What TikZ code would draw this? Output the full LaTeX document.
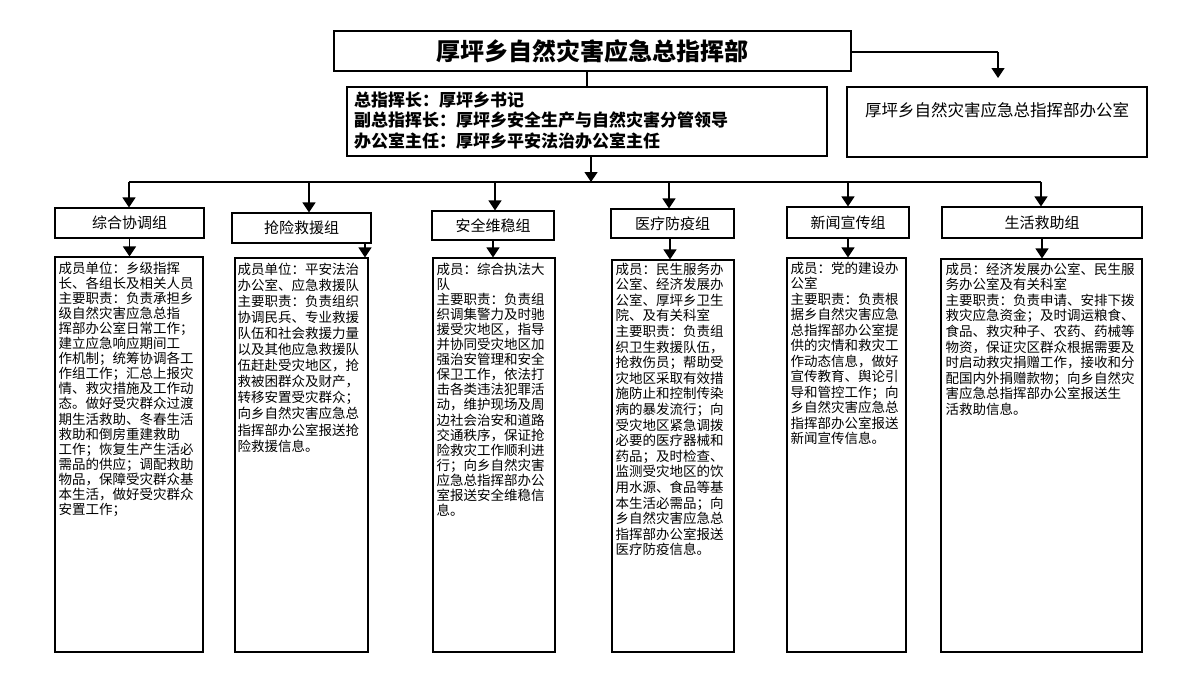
\documentclass[tikz,border=0pt]{standalone}
\usepackage{fontspec}
\usetikzlibrary{arrows.meta}
\newfontfamily\cjk{Noto Sans CJK SC}
\tikzset{
  box/.style={draw, line width=1.1pt, rectangle, inner sep=0pt},
  conn/.style={line width=1.3pt},
  arr/.style={line width=1.3pt, -{Triangle[width=13pt,length=10pt]}},
  grp/.style={box, font=\cjk\fontsize{15}{18}\selectfont},
  detail/.style={anchor=north west, inner sep=0pt, align=left, font=\cjk\fontsize{13.5}{15.5}\selectfont},
}
\begin{document}
\begin{tikzpicture}[x=1pt,y=-1pt]
\useasboundingbox[fill=white] (0,0) rectangle (1186,678);
% top
\node[box, minimum width=517pt, minimum height=40pt, font=\cjk\bfseries\fontsize{24}{28}\selectfont] (title) at (592.5,51) {厚坪乡自然灾害应急总指挥部};
\node[box, minimum width=480pt, minimum height=69pt] (info) at (587,121.5) {};
\node[anchor=north west, inner sep=0pt, align=left, font=\cjk\bfseries\fontsize{17}{20.5}\selectfont] (infot) at (354,91.5) {总指挥长：厚坪乡书记\\副总指挥长：厚坪乡安全生产与自然灾害分管领导\\办公室主任：厚坪乡平安法治办公室主任};
\node[box, minimum width=300pt, minimum height=70pt] (office) at (997,122) {};
\node[inner sep=0pt, font=\cjk\fontsize{16.5}{19}\selectfont] (officet) at (997,110) {厚坪乡自然灾害应急总指挥部办公室};
\coordinate (oc) at (998,52);
\coordinate (otip) at (998,78);
\draw[conn] (title.east |- oc) -- (oc);
\draw[arr] (oc) -- (otip);
\draw[conn] (title.south -| info.north) -- (info.north);
% bus
\coordinate (bus) at (591,182);
\draw[arr] (info.south -| bus) -- (bus);
\coordinate (busl) at (129,182);
\coordinate (busr) at (1041,182);
\draw[conn] (busl) -- (busr);
% groups
\node[grp, minimum width=149pt, minimum height=30pt] (g1) at (129.5,223) {综合协调组};
\node[grp, minimum width=139pt, minimum height=30pt] (g2) at (301.5,228) {抢险救援组};
\node[grp, minimum width=122pt, minimum height=29pt] (g3) at (493,225.5) {安全维稳组};
\node[grp, minimum width=123pt, minimum height=29pt] (g4) at (672.5,223.5) {医疗防疫组};
\node[grp, minimum width=122pt, minimum height=31pt] (g5) at (848,222.5) {新闻宣传组};
\node[grp, minimum width=200pt, minimum height=31pt] (g6) at (1042,222.5) {生活救助组};
\coordinate (b1) at (129,182);
\coordinate (b2) at (309,182);
\coordinate (b3) at (495,182);
\coordinate (b4) at (669,182);
\coordinate (b5) at (848,182);
\coordinate (b6) at (1041,182);
\draw[arr] (b1) -- (b1 |- g1.north);
\draw[arr] (b2) -- (b2 |- g2.north);
\draw[arr] (b3) -- (b3 |- g3.north);
\draw[arr] (b4) -- (b4 |- g4.north);
\draw[arr] (b5) -- (b5 |- g5.north);
\draw[arr] (b6) -- (b6 |- g6.north);
% detail boxes
\node[box, minimum width=148pt, minimum height=395pt] (d1) at (129,454.5) {};
\node[box, minimum width=133pt, minimum height=394pt] (d2) at (301.5,455) {};
\node[box, minimum width=122pt, minimum height=394pt] (d3) at (494,455) {};
\node[box, minimum width=122pt, minimum height=392pt] (d4) at (673,456) {};
\node[box, minimum width=119pt, minimum height=394pt] (d5) at (846.5,455) {};
\node[box, minimum width=201pt, minimum height=393pt] (d6) at (1041.5,455.5) {};
\coordinate (c2) at (365,0);
\coordinate (c3) at (493,0);
\coordinate (c4) at (670,0);
\draw[arr] (g1.south) -- (g1.south |- d1.north);
\draw[arr] (c2 |- g2.south) -- (c2 |- d2.north);
\draw[arr] (c3 |- g3.south) -- (c3 |- d3.north);
\draw[arr] (c4 |- g4.south) -- (c4 |- d4.north);
\draw[arr] (g5.south) -- (g5.south |- d5.north);
\draw[arr] (g6.south) -- (g6.south |- d6.north);
% texts
\node[detail, font=\cjk\fontsize{13.5}{15.1}\selectfont] (t1) at ([xshift=4pt,yshift=-5pt]d1.north west) {成员单位：乡级指挥\\长、各组长及相关人员\\主要职责：负责承担乡\\级自然灾害应急总指\\挥部办公室日常工作；\\建立应急响应期间工\\作机制；统筹协调各工\\作组工作；汇总上报灾\\情、救灾措施及工作动\\态。做好受灾群众过渡\\期生活救助、冬春生活\\救助和倒房重建救助\\工作；恢复生产生活必\\需品的供应；调配救助\\物品，保障受灾群众基\\本生活，做好受灾群众\\安置工作；};
\node[detail, font=\cjk\fontsize{13.5}{16.1}\selectfont] (t2) at ([xshift=3pt,yshift=-5pt]d2.north west) {成员单位：平安法治\\办公室、应急救援队\\主要职责：负责组织\\协调民兵、专业救援\\队伍和社会救援力量\\以及其他应急救援队\\伍赶赴受灾地区，抢\\救被困群众及财产，\\转移安置受灾群众；\\向乡自然灾害应急总\\指挥部办公室报送抢\\险救援信息。};
\node[detail, font=\cjk\fontsize{13.5}{15.1}\selectfont] (t3) at ([xshift=4pt,yshift=-5pt]d3.north west) {成员：综合执法大\\队\\主要职责：负责组\\织调集警力及时驰\\援受灾地区，指导\\并协同受灾地区加\\强治安管理和安全\\保卫工作，依法打\\击各类违法犯罪活\\动，维护现场及周\\边社会治安和道路\\交通秩序，保证抢\\险救灾工作顺利进\\行；向乡自然灾害\\应急总指挥部办公\\室报送安全维稳信\\息。};
\node[detail, font=\cjk\fontsize{13.5}{15.6}\selectfont] (t4) at ([xshift=4pt,yshift=-3pt]d4.north west) {成员：民生服务办\\公室、经济发展办\\公室、厚坪乡卫生\\院、及有关科室\\主要职责：负责组\\织卫生救援队伍，\\抢救伤员；帮助受\\灾地区采取有效措\\施防止和控制传染\\病的暴发流行；向\\受灾地区紧急调拨\\必要的医疗器械和\\药品；及时检查、\\监测受灾地区的饮\\用水源、食品等基\\本生活必需品；向\\乡自然灾害应急总\\指挥部办公室报送\\医疗防疫信息。};
\node[detail, font=\cjk\fontsize{13.5}{15.5}\selectfont] (t5) at ([xshift=4pt,yshift=-4pt]d5.north west) {成员：党的建设办\\公室\\主要职责：负责根\\据乡自然灾害应急\\总指挥部办公室提\\供的灾情和救灾工\\作动态信息，做好\\宣传教育、舆论引\\导和管控工作；向\\乡自然灾害应急总\\指挥部办公室报送\\新闻宣传信息。};
\node[detail, font=\cjk\fontsize{13.5}{15.6}\selectfont] (t6) at ([xshift=5pt,yshift=-4pt]d6.north west) {成员：经济发展办公室、民生服\\务办公室及有关科室\\主要职责：负责申请、安排下拨\\救灾应急资金；及时调运粮食、\\食品、救灾种子、农药、药械等\\物资，保证灾区群众根据需要及\\时启动救灾捐赠工作，接收和分\\配国内外捐赠款物；向乡自然灾\\害应急总指挥部办公室报送生\\活救助信息。};
\end{tikzpicture}
\end{document}
